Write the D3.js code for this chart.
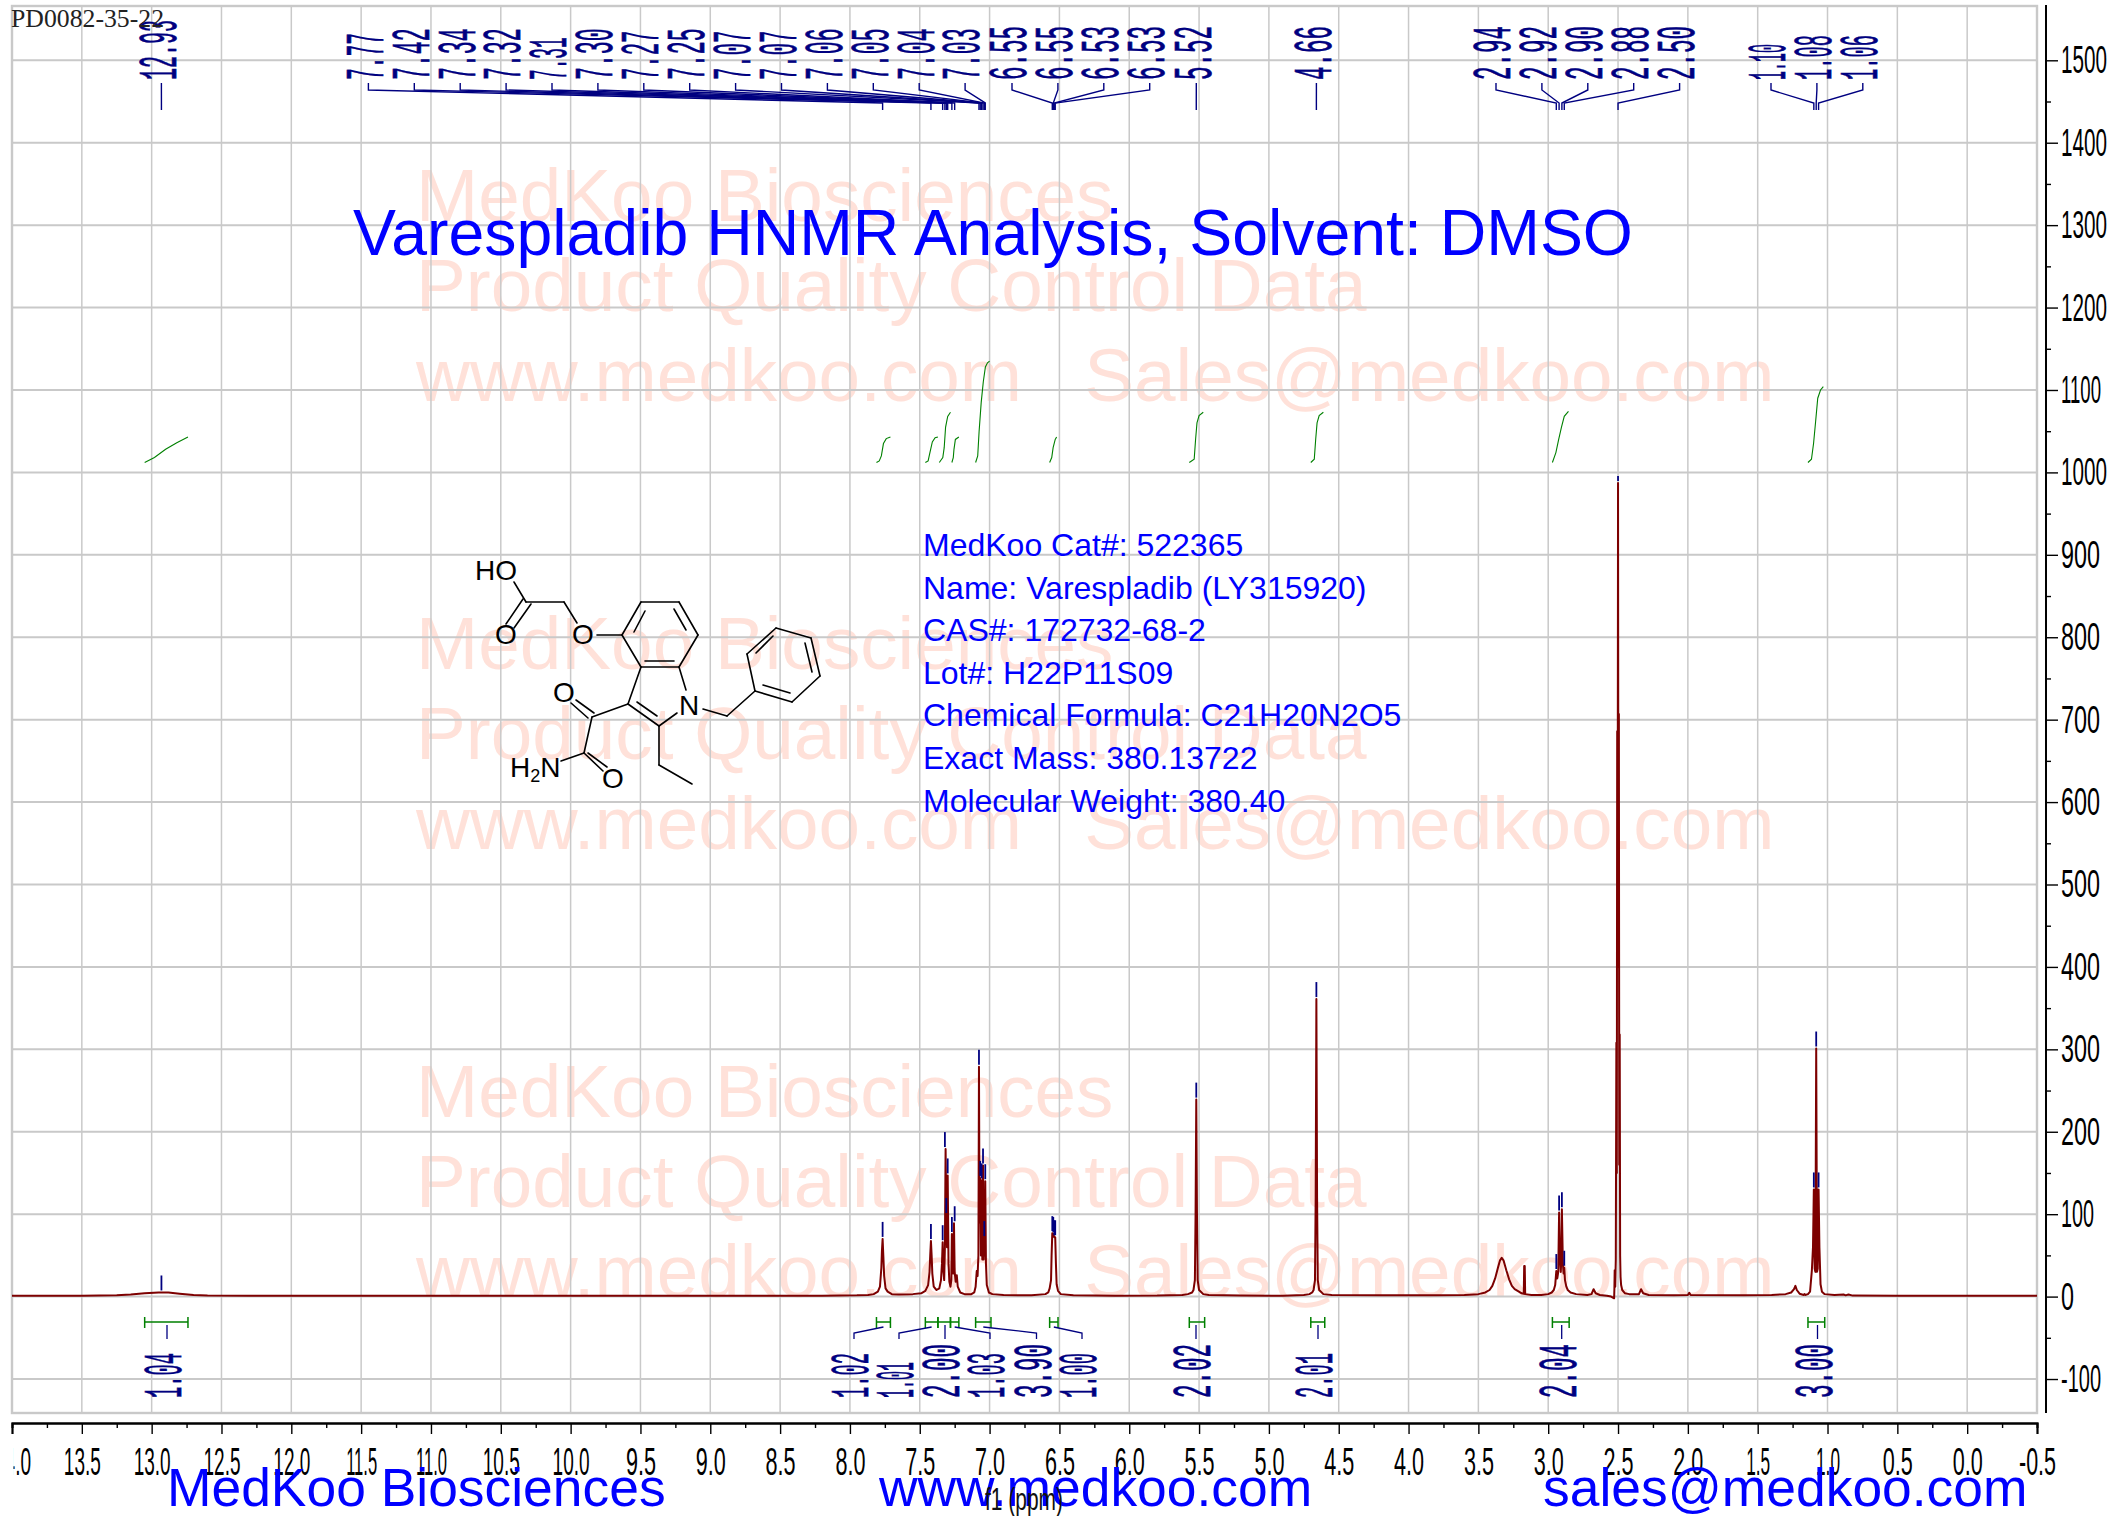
<!DOCTYPE html>
<html>
<head>
<meta charset="utf-8">
<script src="https://cdn.jsdelivr.net/npm/d3@7"></script>
<style>
html, body { margin: 0; padding: 0; background: #fff; }
svg { display: block; }
text { font-family: "Liberation Sans", Arial, sans-serif; }
</style>
</head>
<body>
<svg width="2108" height="1516"></svg>
<script>
// spectrum, left to right
const shiftValues = [14.0,13.5,13.25,13.15,13.05,12.95,12.88,12.8,12.7,12.6,12.3,11.0,10.0,9.0,8.2,7.95,7.87,7.83,7.80,7.785,7.775,7.771,7.766,7.761,7.755,7.745,7.73,7.70,7.65,7.55,7.49,7.46,7.44,7.43,7.425,7.42,7.415,7.41,7.40,7.38,7.36,7.348,7.341,7.336,7.330,7.325,7.320,7.315,7.310,7.305,7.300,7.294,7.288,7.280,7.274,7.270,7.265,7.260,7.255,7.250,7.243,7.235,7.228,7.21,7.18,7.13,7.11,7.10,7.092,7.086,7.080,7.076,7.072,7.067,7.062,7.057,7.052,7.047,7.042,7.038,7.034,7.031,7.026,7.02,7.005,6.98,6.90,6.70,6.60,6.58,6.57,6.56,6.556,6.551,6.544,6.537,6.530,6.525,6.52,6.51,6.49,6.40,6.1,5.8,5.62,5.58,5.55,5.54,5.53,5.525,5.52,5.515,5.51,5.50,5.47,5.43,5.2,4.9,4.75,4.71,4.69,4.68,4.67,4.665,4.66,4.655,4.65,4.64,4.61,4.55,4.2,3.8,3.6,3.5,3.45,3.42,3.40,3.38,3.36,3.345,3.333,3.32,3.30,3.28,3.26,3.24,3.21,3.19,3.175,3.172,3.168,3.165,3.12,3.05,3.0,2.975,2.96,2.95,2.942,2.935,2.928,2.922,2.915,2.91,2.905,2.902,2.895,2.89,2.885,2.88,2.87,2.86,2.84,2.80,2.72,2.69,2.675,2.66,2.63,2.58,2.55,2.528,2.526,2.524,2.520,2.516,2.512,2.509,2.506,2.503,2.500,2.497,2.494,2.491,2.488,2.485,2.482,2.478,2.47,2.45,2.42,2.35,2.335,2.32,2.28,2.1,2.0,1.99,1.98,1.6,1.4,1.3,1.26,1.24,1.23,1.22,1.2,1.17,1.165,1.16,1.14,1.125,1.112,1.104,1.098,1.092,1.087,1.081,1.075,1.070,1.064,1.058,1.05,1.04,1.02,0.95,0.885,0.87,0.85,0.82,0.5,0.0,-0.5];
const intensityValues = [1,1,1.5,2.5,4,5,5,3.5,2,1.2,1,1,1,1,1,1.5,2,3,6,12,35,55,70,50,25,10,6,3,2.5,3,4,7,14,30,50,67.5,50,28,12,8,10,20,40,66,30,20,60,179,99,60,147,40,18,12,20,76,30,28,89,30,18,26,12,5,3,3,5,12,31,25,50,279,90,144,50,141,45,159,45,71,50,140,40,14,5,3,2,1.5,3,5,10,20,50,77,76,72,72,40,15,7,3,1.5,1,1.2,2,3,5,8,20,100,239,100,20,8,3,2,1.2,1,2,3,5,8,20,120,361,120,20,8,3,2,1.5,1.5,2,3,5,8,13,22,35,44,47,44,32,21,13,9,6,4,3.5,37,37,3,2,2,3,5,8,14,31,22,30,102,45,30,50,106,40,28,35,20,12,8,5,3,2,3,9,4,2,1,0,-2,10,32,12,45,308,150,686,400,987,420,707,160,318,50,24,14,8,4,3,3,9,4,2,1.5,2,4.5,2,1.5,2,3,5,9,13,8,3.5,2,3,2,3,6,32,60,130,34,30,301,30,34,130,60,15,6,3,2,2.5,1.5,2.5,1.2,1,1,1];

// picked peaks, labels in the order they are printed
const peakLabels = ["12.93","7.77","7.42","7.34","7.32","7.31","7.30","7.27","7.25","7.07","7.07","7.06","7.05","7.04","7.03","6.55","6.55","6.53","6.53","5.52","4.66","2.94","2.92","2.90","2.88","2.50","1.10","1.08","1.06"];
const peakShifts = [12.93,7.766,7.42,7.336,7.32,7.31,7.30,7.27,7.25,7.076,7.067,7.057,7.047,7.038,7.031,6.551,6.544,6.537,6.530,5.52,4.66,2.942,2.922,2.902,2.885,2.50,1.098,1.081,1.064];
const peakHeights = [5,70,67.5,66,179,99,147,76,89,279,144,141,159,71,140,77,76,72,72,239,361,31,102,106,35,987,130,301,130];
const peakGroupSizes = [1,14,4,1,1,5,3];

// integrals
const integralLabels = ["1.04","1.02","1.01","2.00","1.03","3.90","1.00","2.02","2.01","2.04","3.00"];
const integralFrom = [13.05,7.81,7.46,7.37,7.28,7.10,6.57,5.57,4.70,2.97,1.14];
const integralTo = [12.74,7.71,7.37,7.28,7.22,6.99,6.51,5.46,4.60,2.85,1.02];
const integralShifts = [
  [13.05,12.98,12.9,12.82,12.74],
  [7.81,7.79,7.775,7.76,7.74,7.71],
  [7.46,7.44,7.43,7.41,7.39,7.37],
  [7.36,7.335,7.325,7.315,7.30,7.28],
  [7.27,7.26,7.255,7.245,7.22],
  [7.10,7.085,7.075,7.06,7.045,7.03,7.015,7.00],
  [6.57,6.555,6.545,6.53,6.52],
  [5.57,5.535,5.525,5.515,5.50,5.47],
  [4.70,4.675,4.665,4.655,4.64,4.61],
  [2.97,2.945,2.925,2.905,2.885,2.855],
  [1.14,1.115,1.10,1.085,1.07,1.05,1.03]
];
const integralValues = [
  [1012,1018,1028,1036,1043],
  [1012,1014,1020,1035,1041,1043],
  [1012,1014,1022,1037,1042,1043],
  [1012,1018,1030,1055,1068,1073],
  [1012,1018,1028,1040,1043],
  [1012,1020,1050,1085,1110,1128,1133,1135],
  [1012,1018,1030,1040,1043],
  [1012,1016,1040,1060,1069,1073],
  [1012,1016,1040,1060,1069,1073],
  [1012,1024,1040,1055,1068,1074],
  [1012,1016,1035,1062,1090,1100,1104]
];

// axis ticks
const xTickValues = d3.range(0, 30).map(i => 14 - i * 0.5);
const xMinorValues = d3.range(0, 29).map(i => 13.75 - i * 0.5);
const yTickValues = d3.range(-1, 16).map(i => i * 100);
const yMinorValues = d3.range(-1, 15).map(i => i * 100 + 50);

const infoLines = ["MedKoo Cat#: 522365","Name: Varespladib (LY315920)","CAS#: 172732-68-2","Lot#: H22P11S09","Chemical Formula: C21H20N2O5","Exact Mass: 380.13722","Molecular Weight: 380.40"];
const watermarkLines = ["MedKoo Biosciences","Product Quality Control Data","www.medkoo.com   Sales@medkoo.com"];
const footerLabels = ["MedKoo Biosciences","www.medkoo.com","sales@medkoo.com"];

const width = 2108, height = 1516;
const frame = { left: 12, right: 2037, top: 6, bottom: 1413 };
const navy = "#000080", maroon = "#7d0000", green = "#008000", gridColor = "#c9c9c9";

const x = d3.scaleLinear().domain([14, -0.5]).range([frame.left, frame.right]);
const y = d3.scaleLinear().domain([0, 1500]).range([1296.6, 60.3]);

const svg = d3.select("svg").attr("viewBox", [0, 0, width, height]);

// the odd narrow fonts of the original are faked by squeezing text
const squeezed = (s, w) => d3.sum(s, c => w[c] === undefined ? w.d : w[c]);
const axisW = { d: 13, "1": 7, ".": 4, "-": 7 };
const labelW = { d: 15, "1": 6, "7": 12.7, ".": 9 };

// watermark
const wm = svg.append("g").attr("fill", "#ffe1d9").style("font-size", "74.7px");
[0, 1, 2].forEach(b => {
  wm.selectAll(null).data(watermarkLines).join("text")
    .attr("x", 416)
    .attr("y", (d, i) => 221 + b * 448 + i * 90)
    .style("white-space", "pre")
    .text(d => d);
});

// grid
const grid = svg.append("g").attr("stroke", gridColor);
grid.selectAll(".v").data(xTickValues).join("line")
  .attr("x1", d => x(d)).attr("x2", d => x(d))
  .attr("y1", frame.top).attr("y2", frame.bottom)
  .attr("stroke-width", 1.5);
grid.selectAll(".h").data(yTickValues).join("line")
  .attr("x1", frame.left).attr("x2", frame.right)
  .attr("y1", d => y(d)).attr("y2", d => y(d))
  .attr("stroke-width", 2);
grid.append("rect")
  .attr("x", frame.left).attr("y", frame.top)
  .attr("width", frame.right - frame.left).attr("height", frame.bottom - frame.top)
  .attr("fill", "none").attr("stroke-width", 2.4);

// x axis
const gx = svg.append("g").attr("transform", "translate(0,1423)");
gx.call(d3.axisBottom(x).tickValues(xMinorValues).tickSize(5).tickFormat(""));
gx.append("g").call(d3.axisBottom(x).tickValues(xTickValues).tickSize(11).tickPadding(13)
    .tickFormat(d => d3.format(".1f")(d).replace("−", "-")));
gx.selectAll(".domain").attr("stroke-width", 2);
gx.selectAll("line").attr("stroke-width", 1.4);
gx.selectAll("text")
  .attr("fill", "#000").style("font-size", "39px")
  .attr("textLength", function () { return squeezed(this.textContent, axisW); })
  .attr("lengthAdjust", "spacingAndGlyphs");

// the 14.0 label is cut by the page edge of the plot in the original
svg.append("clipPath").attr("id", "firstclip").append("rect")
  .attr("x", 1).attr("y", 0).attr("width", 60).attr("height", 80);
gx.selectAll("text").filter(function () { return this.textContent === "14.0"; })
  .attr("clip-path", "url(#firstclip)");

// y axis
const gy = svg.append("g").attr("transform", "translate(2046,0)");
gy.call(d3.axisRight(y).tickValues(yMinorValues).tickSize(5).tickFormat("").tickSizeOuter(0));
gy.append("g").call(d3.axisRight(y).tickValues(yTickValues).tickSize(12).tickPadding(3)
    .tickFormat(d => String(d)));
gy.selectAll(".domain").remove();
gy.append("line").attr("y1", 5).attr("y2", 1413).attr("stroke", "#000").attr("stroke-width", 2);
gy.selectAll(".tick line").attr("stroke-width", 1.4);
gy.selectAll("text")
  .attr("fill", "#000").style("font-size", "39px")
  .attr("textLength", function () { return squeezed(this.textContent, axisW); })
  .attr("lengthAdjust", "spacingAndGlyphs");

// spectrum
const line = d3.line().x(d => x(d[0])).y(d => y(d[1]));
svg.append("path")
  .datum(d3.zip(shiftValues, intensityValues))
  .attr("fill", "none").attr("stroke", maroon)
  .attr("stroke-width", 2).attr("stroke-linejoin", "round")
  .attr("d", line);

// blue tick over each picked peak, the one on the solvent peak stops short at the top
svg.append("g").attr("stroke", navy).attr("stroke-width", 1.8)
  .selectAll("line").data(peakShifts).join("line")
  .attr("x1", d => x(d)).attr("x2", d => x(d))
  .attr("y1", (d, i) => Math.max(y(peakHeights[i]) - 17, 476))
  .attr("y2", (d, i) => y(peakHeights[i]) - 2);

// peak labels and their leader lines
const groupStartX = [161.4, 368.4, 1012, 1196.3, 1316.4, 1496, 1771];
const labelStep = 45.9;
const labelRows = [];
let k = 0;
peakGroupSizes.forEach((n, g) => {
  for (let i = 0; i < n; i++, k++) {
    labelRows.push({ text: peakLabels[k], ppm: peakShifts[k], lx: groupStartX[g] + i * labelStep });
  }
});
const leaders = svg.append("g").attr("fill", "none").attr("stroke", navy).attr("stroke-width", 1.4);
leaders.selectAll("path").data(labelRows).join("path")
  .attr("d", d => `M${d.lx},83V90L${x(d.ppm)},103V110`);

const rotLabel = (sel, xf, yBase) => sel
  .attr("transform", d => `translate(${xf(d) - 3.5},${yBase}) rotate(-90)`)
  .attr("dy", "0.33em")
  .attr("fill", navy)
  .attr("stroke", navy)
  .attr("stroke-width", 0.7)
  .style("font-family", "'Liberation Mono', monospace")
  .style("font-size", "54px")
  .attr("textLength", d => squeezed(d.text, labelW))
  .attr("lengthAdjust", "spacingAndGlyphs")
  .text(d => d.text);

svg.append("g").selectAll("text").data(labelRows).join("text")
  .call(rotLabel, d => d.lx, 80);

// integrals, bracket below the baseline and curve above
const intRows = integralLabels.map((t, i) => ({
  text: t, from: integralFrom[i], to: integralTo[i],
  curve: d3.zip(integralShifts[i], integralValues[i])
}));
const stemX = [167, 854, 899, 945, 990, 1036.5, 1082, 1196, 1318, 1561.7, 1817.5];

const br = svg.append("g").attr("stroke", green).attr("stroke-width", 1.5).attr("fill", "none");
br.selectAll("path").data(intRows).join("path")
  .attr("d", d => `M${x(d.from)},1317V1328M${x(d.from)},1322H${x(d.to)}M${x(d.to)},1317V1328`);

svg.append("g").attr("fill", "none").attr("stroke", navy).attr("stroke-width", 1.3)
  .selectAll("path").data(intRows).join("path")
  .attr("d", (d, i) => {
    const mid = (x(d.from) + x(d.to)) / 2;
    return Math.abs(mid - stemX[i]) < 6
      ? `M${stemX[i]},1325V1339`
      : `M${stemX[i]},1339V1333L${mid},1327`;
  });

svg.append("g").selectAll("text").data(intRows).join("text")
  .call(rotLabel, d => stemX[intRows.indexOf(d)], 1398);

svg.append("g").attr("fill", "none").attr("stroke", green).attr("stroke-width", 1.1)
  .selectAll("path").data(intRows).join("path")
  .attr("d", d => line(d.curve));

// page labels
svg.append("text").attr("x", 353).attr("y", 255)
  .attr("fill", "#0000ff").style("font-size", "64.4px")
  .text("Varespladib HNMR Analysis, Solvent: DMSO");

svg.append("g").attr("fill", "#0000ff").style("font-size", "32px")
  .selectAll("text").data(infoLines).join("text")
  .attr("x", 923).attr("y", (d, i) => 556 + i * 42.6)
  .text(d => d);

svg.append("text").attr("x", 11).attr("y", 27)
  .attr("fill", "#222").style("font-family", "'Liberation Serif', serif")
  .style("font-size", "25px")
  .attr("textLength", 153).attr("lengthAdjust", "spacingAndGlyphs")
  .text("PD0082-35-22");

const footerX = [167, 879, 1543];
svg.append("g").attr("fill", "#0000ff").style("font-size", "53.4px")
  .selectAll("text").data(footerLabels).join("text")
  .attr("x", (d, i) => footerX[i]).attr("y", 1506)
  .text(d => d);

svg.append("text").attr("x", 985).attr("y", 1510)
  .attr("fill", "#111").style("font-size", "32px")
  .attr("textLength", 78).attr("lengthAdjust", "spacingAndGlyphs")
  .text("f1 (ppm)");

// structure drawing, in its own little coordinate space
const mx = d3.scaleLinear().domain([0, 420]).range([440, 860]);
const my = d3.scaleLinear().domain([0, 280]).range([530, 810]);
const bonds = [
  [86,72,74,52],[86,72,124,72],[124,72,137,93],[157,105,182,105],
  [91,74,74,98],[83,69,66,94],
  [182,105,201,72],[201,72,239,72],[239,72,258,105],[258,105,239,137],[239,137,201,137],[201,137,182,105],
  [194,102,205,81],[234,79,246,100],[205,131,234,131],
  [201,137,188,174],[188,174,219,196],[197,172,217,186],[219,196,237,183],[239,137,246,160],
  [263,179,287,186],[287,186,315,161],
  [315,161,352,172],[352,172,380,146],[380,146,371,108],[371,108,336,98],[336,98,307,124],[307,124,315,161],
  [323,155,350,163],[372,142,365,113],[333,106,316,123],
  [219,196,219,235],[219,235,252,254],
  [188,174,152,187],[154,183,136,170],[148,188,131,173],
  [152,187,144,223],[144,223,121,231],[144,223,163,241],[148,223,167,237]
];
svg.append("g").attr("stroke", "#000").attr("stroke-width", 1.6).attr("stroke-linecap", "round")
  .selectAll("line").data(bonds).join("line")
  .attr("x1", d => mx(d[0])).attr("y1", d => my(d[1]))
  .attr("x2", d => mx(d[2])).attr("y2", d => my(d[3]));

const atoms = [["HO",56,50],["O",66,114],["O",143,114],["O",124,172],["N",249,185],["O",173,258]];
svg.append("g").attr("fill", "#000").style("font-size", "28px").attr("text-anchor", "middle")
  .selectAll("text").data(atoms).join("text")
  .attr("x", d => mx(d[1])).attr("y", d => my(d[2]))
  .text(d => d[0]);
const amine = svg.append("text").attr("x", mx(70)).attr("y", my(247)).attr("fill", "#000").style("font-size", "28px");
amine.append("tspan").text("H");
amine.append("tspan").text("2").attr("dy", 5).style("font-size", "18px");
amine.append("tspan").text("N").attr("dy", -5);
</script>
</body>
</html>
